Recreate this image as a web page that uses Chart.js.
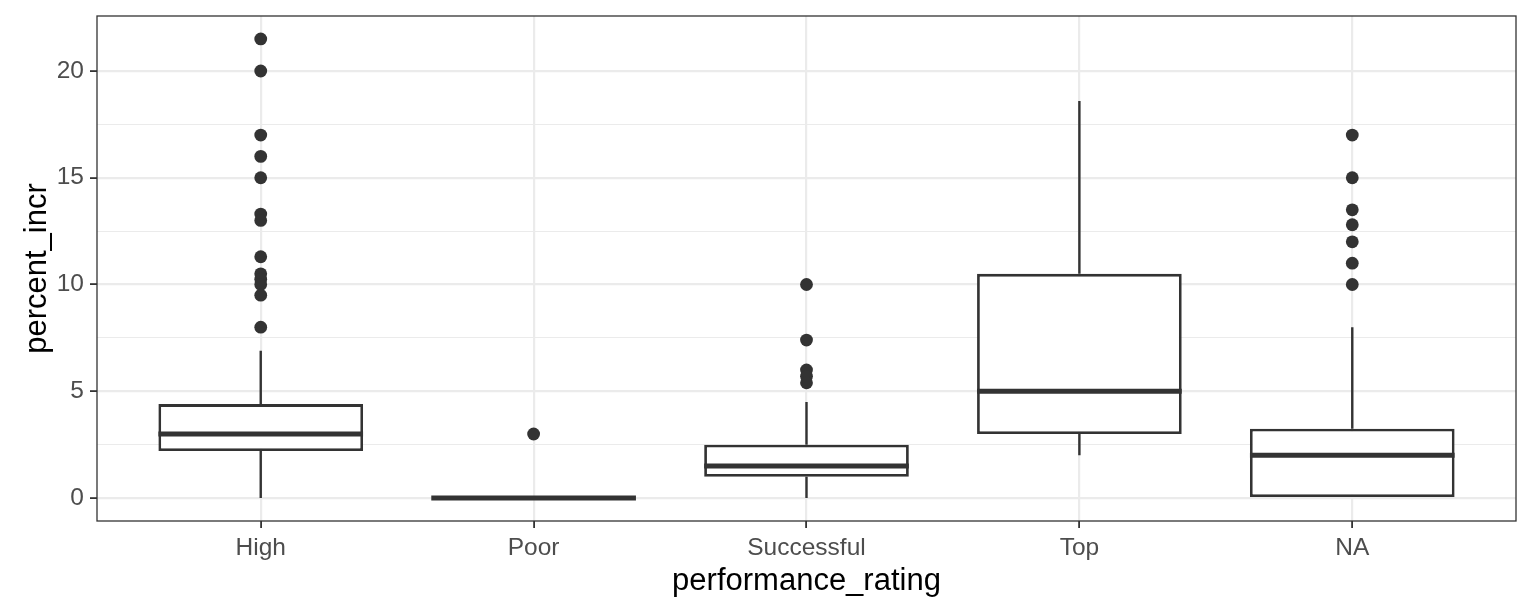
<!DOCTYPE html>
<html>
<head>
<meta charset="utf-8">
<script src="https://cdn.jsdelivr.net/npm/chart.js@4"></script>
<style>
  html, body { margin: 0; padding: 0; background: #ffffff; }
  #wrap { width: 1536px; height: 614px; position: relative; }
</style>
</head>
<body>
<div id="wrap"><canvas id="c"></canvas></div>
<script>
// ---- data ----
const categories   = ['High', 'Poor', 'Successful', 'Top', 'NA'];
const whiskerLow   = [0,   0, 0,   2,    0];
const q1           = [2.2, 0, 1,   3,    0];
const median       = [3,   0, 1.5, 5,    2];
const q3           = [4.4, 0, 2.5, 10.5, 3.25];
const whiskerHigh  = [6.9, 0, 4.5, 18.6, 8];
const outliersHigh       = [21.5, 20, 17, 16, 15, 13.3, 13, 11.3, 10.5, 10.25, 10, 9.5, 8];
const outliersPoor       = [3];
const outliersSuccessful = [10, 7.4, 6, 5.7, 5.4];
const outliersTop        = [];
const outliersNA         = [17, 15, 13.5, 12.8, 12, 11, 10];
const yMajorTicks  = [0, 5, 10, 15, 20];

// ---- helpers to build library datasets ----
const outlierLists = [outliersHigh, outliersPoor, outliersSuccessful, outliersTop, outliersNA];
const BOX_WIDTH = 0.75;
const INK = '#333333';
const FONT = '"Liberation Sans", Arial, Helvetica, sans-serif';

const boxData = categories.map((c, i) => ({ x: i + 1, y: [q1[i], q3[i]] }));
const medianData = [];
const whiskerData = [];
categories.forEach((c, i) => {
  const x = i + 1;
  medianData.push({ x: x - BOX_WIDTH / 2, y: median[i] }, { x: x + BOX_WIDTH / 2, y: median[i] }, { x: x, y: null });
  whiskerData.push({ x: x, y: whiskerLow[i] }, { x: x, y: q1[i] }, { x: x, y: null });
  whiskerData.push({ x: x, y: q3[i] }, { x: x, y: whiskerHigh[i] }, { x: x, y: null });
});
const outlierData = [];
outlierLists.forEach((list, i) => list.forEach(v => outlierData.push({ x: i + 1, y: v })));

const yMinor = [];
for (let k = 0; k < yMajorTicks.length - 1; k++) yMinor.push((yMajorTicks[k] + yMajorTicks[k + 1]) / 2);
const yAllTicks = yMajorTicks.concat(yMinor).sort((a, b) => a - b);
const isMajor = v => yMajorTicks.includes(v);

const panelBorder = {
  id: 'panelBorder',
  afterDraw(chart) {
    const { ctx, chartArea: a } = chart;
    ctx.save();
    ctx.strokeStyle = INK;
    ctx.lineWidth = 1.3;
    ctx.strokeRect(a.left, a.top, a.right - a.left, a.bottom - a.top);
    ctx.restore();
  }
};

new Chart(document.getElementById('c'), {
  type: 'bar',
  data: {
    datasets: [
      {
        type: 'line', label: 'median', data: medianData, order: 0,
        borderColor: INK, borderWidth: 5, borderCapStyle: 'butt',
        pointRadius: 0, spanGaps: false, fill: false
      },
      {
        type: 'line', label: 'outliers', data: outlierData, order: 1,
        showLine: false, pointRadius: 6.4, pointBackgroundColor: INK,
        pointBorderWidth: 0, pointBorderColor: INK
      },
      {
        type: 'bar', label: 'box', data: boxData, order: 2,
        backgroundColor: '#ffffff', borderColor: INK, borderWidth: 2.8,
        borderSkipped: false, categoryPercentage: 1, barPercentage: BOX_WIDTH,
        inflateAmount: 0
      },
      {
        type: 'line', label: 'whiskers', data: whiskerData, order: 3,
        borderColor: INK, borderWidth: 2.4, borderCapStyle: 'butt',
        pointRadius: 0, spanGaps: false, fill: false
      }
    ]
  },
  options: {
    responsive: true,
    maintainAspectRatio: false,
    animation: false,
    events: [],
    layout: { padding: { top: 16, right: 20, left: 0, bottom: 0 } },
    plugins: { legend: { display: false }, tooltip: { enabled: false } },
    scales: {
      x: {
        type: 'linear',
        offset: false,
        min: 0.4, max: 5.6,
        afterBuildTicks(scale) { scale.ticks = categories.map((c, i) => ({ value: i + 1 })); },
        afterFit(scale) { scale.height = 93; scale.paddingLeft = 0; scale.paddingRight = 0; },
        ticks: {
          autoSkip: false, maxRotation: 0,
          callback: v => categories[v - 1],
          color: '#4d4d4d',
          font: { family: FONT, size: 24.5 },
          padding: 6
        },
        grid: {
          offset: false,
          color: '#ebebeb', lineWidth: 2.2,
          drawTicks: true, tickLength: 7, tickColor: INK, tickWidth: 1.8
        },
        border: { display: false },
        title: {
          display: true, text: 'performance_rating', color: '#000000',
          font: { family: FONT, size: 31 },
          padding: { top: 0, bottom: 14 }
        }
      },
      y: {
        type: 'linear',
        min: -1.075, max: 22.575,
        afterBuildTicks(scale) { scale.ticks = yAllTicks.map(v => ({ value: v })); },
        afterFit(scale) { scale.width = 97; scale.paddingTop = 0; scale.paddingBottom = 0; },
        ticks: {
          autoSkip: false,
          callback: v => (isMajor(v) ? String(v) : ''),
          color: '#4d4d4d',
          font: { family: FONT, size: 24.5 },
          padding: 6
        },
        grid: {
          color: '#ebebeb',
          lineWidth: ctx => (ctx.tick && isMajor(ctx.tick.value) ? 2.2 : 1.1),
          drawTicks: true, tickLength: 7,
          tickColor: ctx => (ctx.tick && isMajor(ctx.tick.value) ? INK : 'rgba(0,0,0,0)'),
          tickWidth: 1.8
        },
        border: { display: false },
        title: {
          display: true, text: 'percent_incr', color: '#000000',
          font: { family: FONT, size: 31 },
          padding: { top: 19, bottom: 0 }
        }
      }
    }
  },
  plugins: [panelBorder]
});
</script>
</body>
</html>
